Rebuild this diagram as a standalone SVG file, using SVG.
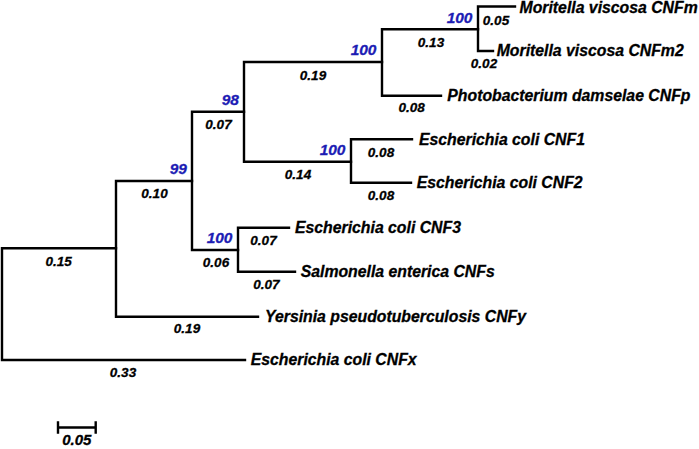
<svg xmlns="http://www.w3.org/2000/svg" width="699" height="449" viewBox="0 0 699 449">
<style>
.br{fill:none;stroke:#000;stroke-width:2.4;stroke-linecap:square}
text{font-family:"Liberation Sans",Arial,sans-serif;font-weight:bold;font-style:italic;stroke-width:0.3}
.tx{font-size:15.8px;fill:#000;stroke:#000}
.bs{font-size:15.5px;fill:#1c1cb4;stroke:#1c1cb4;text-anchor:end}
.bl{font-size:13.5px;fill:#000;stroke:#000;text-anchor:middle}
</style>
<rect width="699" height="449" fill="#fff"/>
<g id="connectors">
<path class="br" d="M116,248.3H2V360H245"/>
<path class="br" d="M192,181H116V316.7H258"/>
<path class="br" d="M244,111.7H192V250H238"/>
<path class="br" d="M382,62H244V161.7H351"/>
<path class="br" d="M478,29.3H382V95.7H441"/>
<path class="br" d="M515,6.5H478V51H493"/>
<path class="br" d="M412,139.3H351V182.7H411"/>
<path class="br" d="M289,227.7H238V271.7H295"/>
<path class="br" d="M58,427.5H95.7M58,422.5V432.5M95.7,422.5V432.5"/>
</g>
<g id="branch-lengths">
<text class="bl" x="496" y="25">0.05</text>
<text class="bl" x="431" y="46.5">0.13</text>
<text class="bl" x="484" y="68.3">0.02</text>
<text class="bl" x="313" y="80">0.19</text>
<text class="bl" x="411.7" y="111.7">0.08</text>
<text class="bl" x="218.5" y="129">0.07</text>
<text class="bl" x="381" y="156.7">0.08</text>
<text class="bl" x="298" y="179">0.14</text>
<text class="bl" x="381" y="200">0.08</text>
<text class="bl" x="154.5" y="198">0.10</text>
<text class="bl" x="263.5" y="245">0.07</text>
<text class="bl" x="216" y="267.3">0.06</text>
<text class="bl" x="266.3" y="289.3">0.07</text>
<text class="bl" x="58.7" y="265.7">0.15</text>
<text class="bl" x="187" y="333.3">0.19</text>
<text class="bl" x="123" y="376.7">0.33</text>
</g>
<g id="node-99"><text class="bs" x="187" y="174">99</text></g>
<g id="node-98"><text class="bs" x="239" y="105">98</text></g>
<g id="node-100-vibrio"><text class="bs" x="376.5" y="55">100</text></g>
<g id="node-100-moritella"><text class="bs" x="472.5" y="22.5">100</text></g>
<g id="node-100-cnf12"><text class="bs" x="345.5" y="155">100</text></g>
<g id="node-100-cnf3s"><text class="bs" x="232.5" y="243.3">100</text></g>
<g id="leaf-cnfm"><text class="tx" x="519.5" y="13">Moritella viscosa CNFm</text></g>
<g id="leaf-cnfm2"><text class="tx" x="496.7" y="56">Moritella viscosa CNFm2</text></g>
<g id="leaf-cnfp"><text class="tx" x="447.3" y="101">Photobacterium damselae CNFp</text></g>
<g id="leaf-cnf1"><text class="tx" x="419" y="144.5">Escherichia coli CNF1</text></g>
<g id="leaf-cnf2"><text class="tx" x="416.7" y="188">Escherichia coli CNF2</text></g>
<g id="leaf-cnf3"><text class="tx" x="295" y="233">Escherichia coli CNF3</text></g>
<g id="leaf-cnfs"><text class="tx" x="300.7" y="277">Salmonella enterica CNFs</text></g>
<g id="leaf-cnfy"><text class="tx" x="265" y="322">Yersinia pseudotuberculosis CNFy</text></g>
<g id="leaf-cnfx"><text class="tx" x="250.7" y="365">Escherichia coli CNFx</text></g>
<g id="scale"><text class="bl" x="76.8" y="444.5" style="font-size:15px">0.05</text></g>
</svg>
